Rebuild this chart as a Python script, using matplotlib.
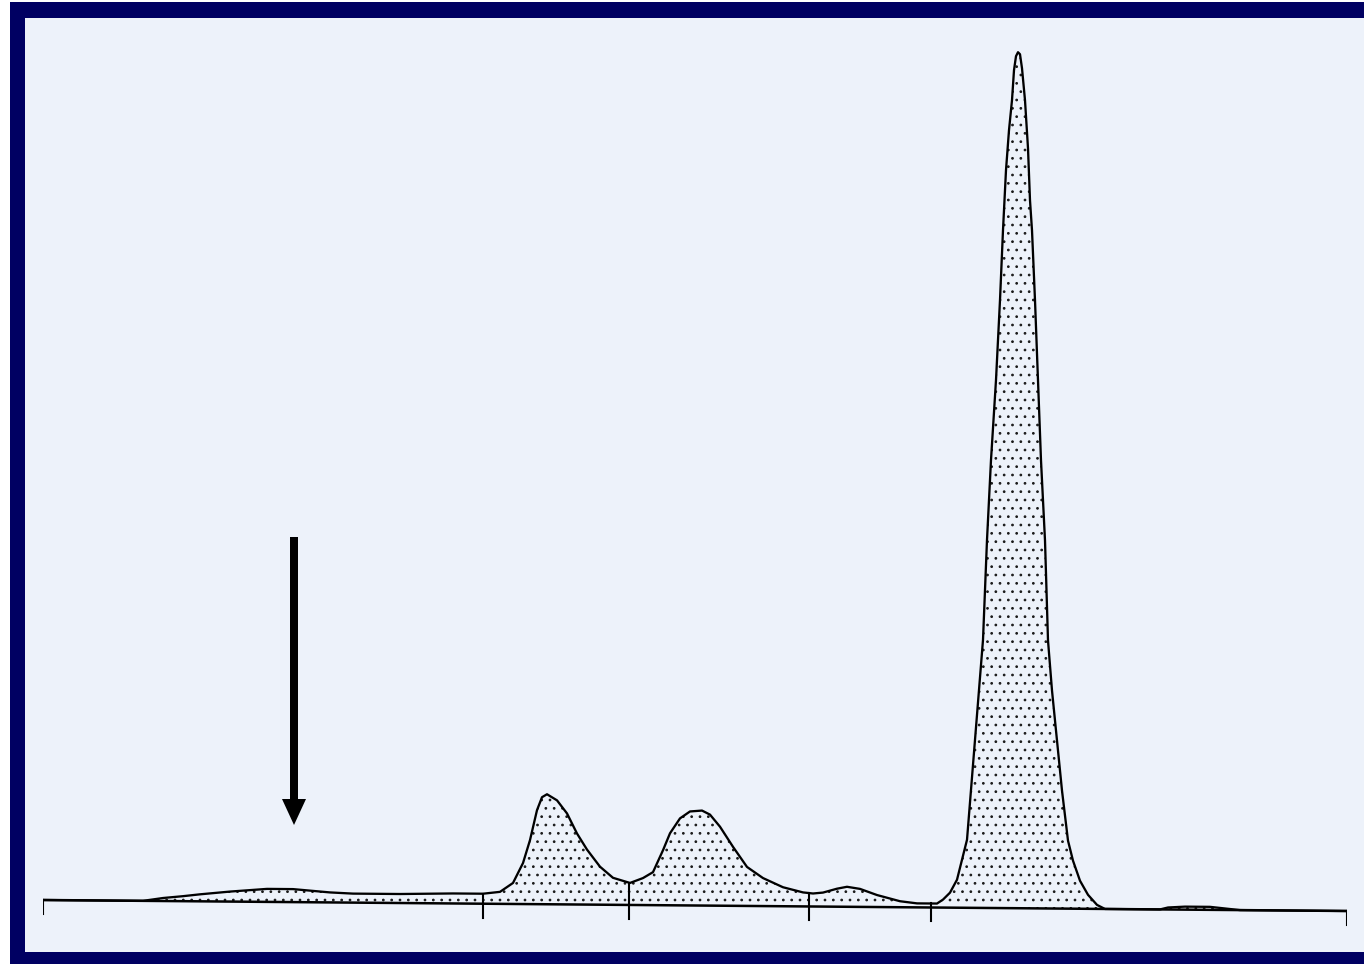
import matplotlib.pyplot as plt
from matplotlib.patches import Rectangle
import numpy as np

# densitometer scan (position along strip, height above baseline)
pos = [0, 100, 120, 140, 157, 187, 224, 250, 287, 310, 357, 410, 432, 440,
       457, 470, 480, 487, 494, 499, 504, 514, 524, 534, 544, 557, 570, 587,
       600, 610, 620, 627, 637, 647, 659, 667, 677, 690, 704, 720, 740, 760,
       770, 780, 794, 804, 817, 834, 857, 874, 894, 900, 907, 914, 919, 924,
       928, 932, 936, 940, 944, 948, 953, 957, 960, 963, 966, 969, 971, 973,
       975, 977, 979, 982, 985, 987, 989, 992, 995, 998, 1002, 1005, 1009,
       1014, 1019, 1025, 1030, 1037, 1045, 1054, 1062, 1117, 1125, 1142,
       1167, 1187, 1197, 1304]
dens = [0, 0, 3, 5, 7, 10, 13, 13, 10, 9, 9, 10, 10, 10,
        12, 21, 41, 64, 94, 107, 110, 104, 91, 71, 55, 38, 27, 22,
        27, 33, 55, 72, 87, 94, 95, 91, 79, 59, 39, 28, 19, 14,
        13, 14, 18, 20, 18, 12, 6, 4, 4, 8, 15, 28, 48, 68,
        118, 168, 218, 268, 368, 448, 528, 608, 678, 738, 778, 808, 838, 852,
        856, 854, 840, 808, 760, 708, 678, 608, 528, 448, 368, 268, 218,
        168, 118, 68, 48, 28, 14, 4, 0, 0, 2, 3,
        3, 1, 0, 0]
fraction_cuts = [440, 586, 766, 888]   # separators between fractions
scan_ends = [0, 1304]
drift = -11 / 1304                     # baseline slope of the scan
arrow_pos = 251

W, H, DPI = 1364, 964, 150
plt.rcParams['hatch.linewidth'] = 0.5
fig = plt.figure(figsize=(W / DPI, H / DPI), dpi=DPI, facecolor='white')

# navy frame and paper
fig.patches.append(Rectangle((10 / W, 0), 1, 962 / H, transform=fig.transFigure,
                             facecolor='#000062', edgecolor='none', zorder=-2))
fig.patches.append(Rectangle((25 / W, 12 / H), 1, 934 / H, transform=fig.transFigure,
                             facecolor='#edf2fa', edgecolor='none', zorder=-1))

ax = fig.add_axes([43 / W, 0, 1304 / W, 1])
ax.set_xlim(0, 1304)
ax.set_ylim(-64, 900)
ax.set_facecolor('none')
ax.axis('off')

x = np.array(pos, dtype=float)
base = drift * x
top = base + np.array(dens)

ax.fill_between(x, base, top, facecolor='none', edgecolor='#1a1a1a',
                hatch='...', linewidth=0)
ax.plot(x, top, color='black', lw=1.1, solid_joinstyle='round')
ax.plot(scan_ends, [drift * s for s in scan_ends], color='black', lw=1.2)

for c in fraction_cuts:
    ax.plot([c, c], [drift * c - 14, np.interp(c, x, top)], color='black', lw=1.0)
for s in scan_ends:
    ax.plot([s, s], [drift * s - 14, drift * s], color='black', lw=1.0)

ax.arrow(arrow_pos, 363, 0, -288, width=8, head_width=24, head_length=26,
         length_includes_head=True, color='black', lw=0)

fig.savefig('out.png', dpi=DPI)
